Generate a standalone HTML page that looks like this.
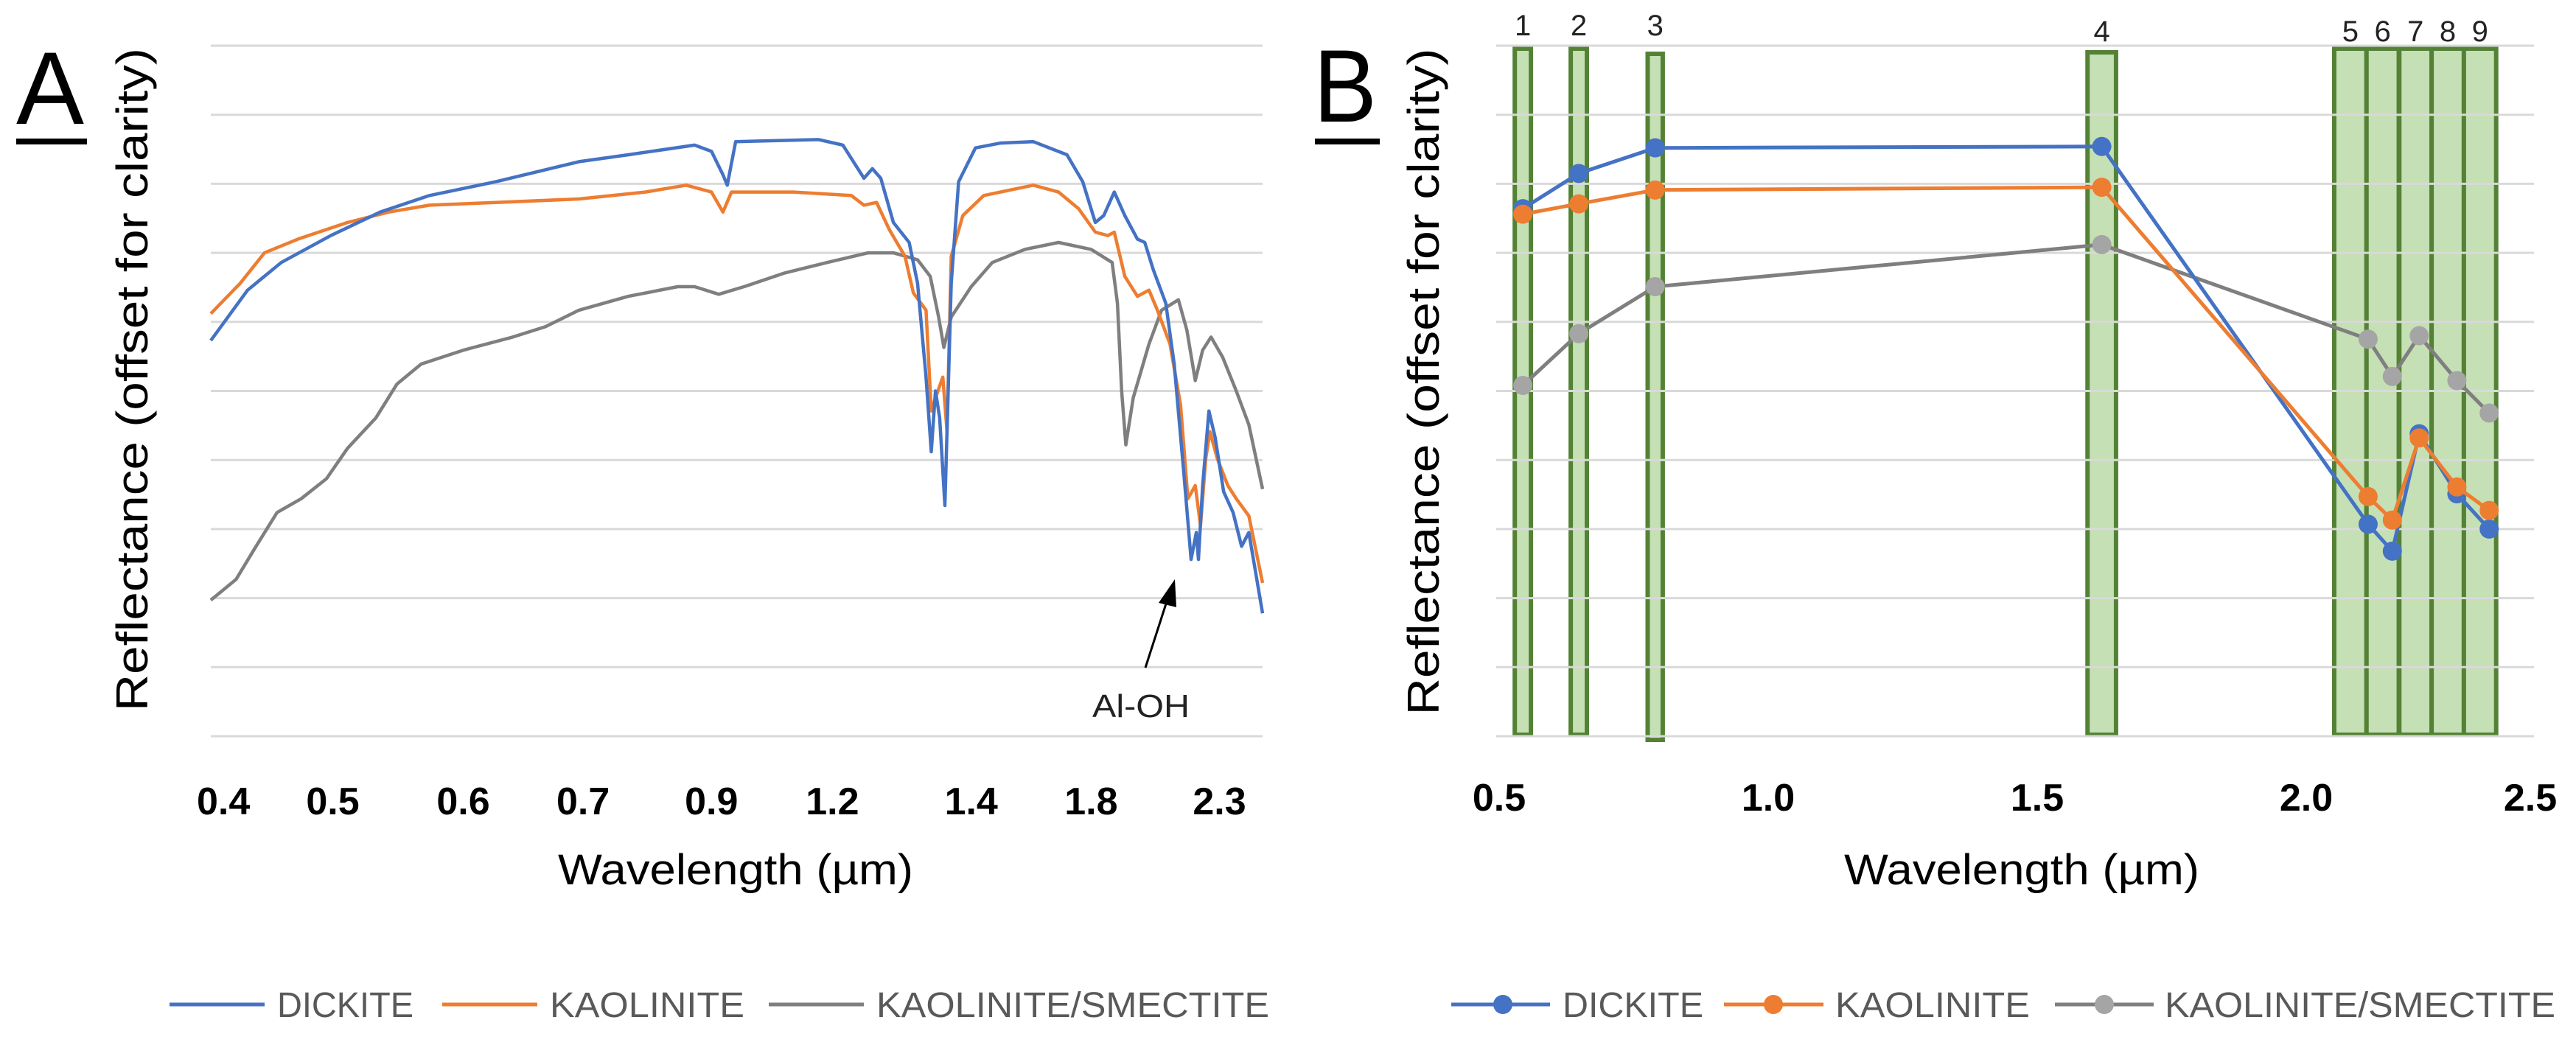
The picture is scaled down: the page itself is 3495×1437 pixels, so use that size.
<!DOCTYPE html>
<html><head><meta charset="utf-8"><style>
html,body{margin:0;padding:0;background:#fff;}
svg{display:block;font-family:"Liberation Sans",sans-serif;}
</style></head><body>
<svg id="fig" width="3495" height="1437" viewBox="0 0 3495 1437" xmlns="http://www.w3.org/2000/svg">
<g id="panelA"></g>
<g id="panelB"></g>
</svg>
<script>
// ---------- Panel A data (x: relative position 0-100 along axis, y: offset reflectance 0-10) ----------
const aTickLabels = ["0.4","0.5","0.6","0.7","0.9","1.2","1.4","1.8","2.3"];
const aTickPos = [1.2,11.6,24.0,35.4,47.6,59.1,72.3,83.7,95.9];
const dickX = [0,3.5,6.7,11.4,16.1,20.8,27.1,35.0,39.7,46.0,47.6,48.7,49.1,49.9,57.8,60.1,61.3,62.1,62.9,63.7,64.9,66.4,67.2,68.0,68.5,68.9,69.3,69.8,70.4,71.1,72.7,75.1,78.2,81.4,82.9,84.1,84.9,85.9,86.9,88.1,88.8,89.6,90.8,91.6,92.5,93.2,93.7,93.9,94.3,94.9,95.5,96.3,97.2,98.0,98.7,100];
const dickY = [5.73,6.46,6.86,7.25,7.59,7.83,8.03,8.32,8.42,8.56,8.47,8.13,7.98,8.61,8.64,8.56,8.27,8.08,8.22,8.08,7.44,7.15,6.56,5.20,4.12,5.00,4.61,3.34,6.56,8.03,8.52,8.59,8.61,8.42,8.03,7.44,7.54,7.88,7.54,7.20,7.15,6.76,6.27,5.39,3.83,2.56,2.95,2.56,3.63,4.71,4.32,3.54,3.24,2.75,2.95,1.78];
const kaolX = [0,2.8,5.1,8.3,13.0,16.9,20.8,27.1,35.0,41.3,45.2,47.6,48.7,49.5,55.4,60.9,62.1,63.3,64.5,66.0,66.8,68.0,68.5,68.9,69.6,70.0,70.4,71.5,73.5,78.2,80.6,82.5,84.1,85.3,85.9,86.9,88.1,89.2,90.0,91.2,92.2,92.9,93.6,94.1,94.6,95.0,95.7,96.7,97.5,98.7,100];
const kaolY = [6.12,6.56,7.00,7.20,7.44,7.59,7.69,7.73,7.78,7.88,7.98,7.88,7.59,7.88,7.88,7.83,7.69,7.73,7.34,6.95,6.42,6.17,4.71,4.90,5.20,4.41,6.95,7.54,7.83,7.98,7.88,7.64,7.30,7.25,7.30,6.66,6.37,6.46,6.17,5.68,4.80,3.44,3.63,3.05,4.02,4.41,4.02,3.63,3.44,3.19,2.22];
const ksX = [0,2.4,4.3,6.3,8.6,11.0,13.0,15.7,17.7,20.0,24.0,28.7,31.8,35.0,39.7,44.4,46.0,48.3,50.7,54.6,58.6,62.5,64.9,67.2,68.4,69.2,69.7,70.4,72.3,74.3,77.4,80.6,83.7,85.7,86.2,86.6,87.0,87.7,89.2,90.4,92.0,92.8,93.6,94.3,95.1,96.2,97.5,98.7,100];
const ksY = [1.97,2.27,2.75,3.24,3.44,3.73,4.17,4.61,5.10,5.39,5.59,5.78,5.93,6.17,6.37,6.51,6.51,6.40,6.51,6.71,6.86,7.00,7.00,6.90,6.66,6.07,5.63,6.07,6.51,6.86,7.05,7.15,7.05,6.86,6.27,5.00,4.22,4.90,5.68,6.17,6.32,5.88,5.15,5.59,5.78,5.49,5.00,4.51,3.58];

// ---------- Panel B data (wavelength µm, offset reflectance 0-10) ----------
const bBandLabels = ["1","2","3","4","5","6","7","8","9"];
const bBandCenters = [0.544,0.648,0.790,1.620,2.082,2.142,2.203,2.263,2.323];
const bBandWidths = [0.030,0.030,0.028,0.053,0.060,0.060,0.060,0.060,0.060];
const bPointX = [0.544,0.648,0.790,1.620,2.115,2.160,2.210,2.280,2.340];
const bDickite = [7.64,8.15,8.52,8.54,3.07,2.68,4.38,3.51,3.00];
const bKaolinite = [7.56,7.71,7.91,7.95,3.47,3.13,4.32,3.61,3.27];
const bKaolSmec = [5.08,5.83,6.51,7.12,5.75,5.21,5.80,5.15,4.68];
const bTickLabels = ["0.5","1.0","1.5","2.0","2.5"];
const bTickVals = [0.5,1.0,1.5,2.0,2.5];

const NS="http://www.w3.org/2000/svg";
const BLUE="#4472c4", ORANGE="#ed7d31", GRAY="#7f7f7f", MGRAY="#a5a5a5";
function mk(parent,tag,attrs,text){const e=document.createElementNS(NS,tag);for(const k in attrs)e.setAttribute(k,attrs[k]);if(text!==undefined)e.textContent=text;parent.appendChild(e);return e;}

const yTop=62, yBot=999;
function yS(v){return yBot-(v/10)*(yBot-yTop);}

// ---------- Panel A ----------
const A=document.getElementById('panelA');
const aL=286, aR=1713;
function xA(t){return aL+(t/100)*(aR-aL);}
for(let i=0;i<=10;i++){
  const g=mk(A,'line',{x1:aL,x2:aR,y1:yS(i),y2:yS(i),stroke:'#d9d9d9','stroke-width':3});
  
  
}
function seriesA(xs,ys,color,name){
  const d=xs.map((x,i)=>(i?'L':'M')+xA(x).toFixed(1)+' '+yS(ys[i]).toFixed(1)).join(' ');
  const p=mk(A,'path',{d:d,fill:'none',stroke:color,'stroke-width':4.5,'stroke-linejoin':'round'});
  
  
}
seriesA(ksX,ksY,GRAY,'kaolinite-smectite-line-a');
seriesA(kaolX,kaolY,ORANGE,'kaolinite-line-a');
seriesA(dickX,dickY,BLUE,'dickite-line-a');
aTickLabels.forEach((l,i)=>{
  const t=mk(A,'text',{x:xA(aTickPos[i]),y:1105,'text-anchor':'middle','font-size':52,'font-weight':'bold',fill:'#000'},l);
  
  
});
</script>
<script>
(function(){
const A=document.getElementById('panelA');
A.insertAdjacentHTML('beforeend',`
<text x="22" y="168" font-size="140" fill="#000" textLength="92" lengthAdjust="spacingAndGlyphs">A</text>
<rect x="22" y="188" width="96" height="8" fill="#000"/>
<text transform="translate(200,515) rotate(-90)" text-anchor="middle" font-size="60" fill="#000" textLength="900" lengthAdjust="spacingAndGlyphs">Reflectance (offset for clarity)</text>
<text x="998" y="1200" text-anchor="middle" font-size="58" fill="#000" textLength="482" lengthAdjust="spacingAndGlyphs">Wavelength (µm)</text>
<text x="1548" y="973" text-anchor="middle" font-size="44" fill="#222" textLength="132" lengthAdjust="spacingAndGlyphs">Al-OH</text>
<line x1="1554" y1="906" x2="1585" y2="810" stroke="#000" stroke-width="3"/>
<polygon points="1594,786 1572,818 1596,824" fill="#000"/>
<g>
<line x1="230" x2="359" y1="1363" y2="1363" stroke="#4472c4" stroke-width="5"/>
<text x="376" y="1380" font-size="48" fill="#595959" textLength="185" lengthAdjust="spacingAndGlyphs">DICKITE</text>
<line x1="600" x2="729" y1="1363" y2="1363" stroke="#ed7d31" stroke-width="5"/>
<text x="746" y="1380" font-size="48" fill="#595959" textLength="264" lengthAdjust="spacingAndGlyphs">KAOLINITE</text>
<line x1="1043" x2="1172" y1="1363" y2="1363" stroke="#7f7f7f" stroke-width="5"/>
<text x="1189" y="1380" font-size="48" fill="#595959" textLength="533" lengthAdjust="spacingAndGlyphs">KAOLINITE/SMECTITE</text>
</g>`);
})();
</script>
<script>
(function(){
const B=document.getElementById('panelB');
const bL=2030, bR=3438;
function xB(w){return 2034+(w-0.5)*730;}
bBandCenters.forEach((c,i)=>{
  const w=bBandWidths[i]*730;
  const top = i===2?73:(i===3?71:66);
  const bot = i===2?1004:997;
  const r=mk(B,'rect',{x:xB(c)-w/2,y:top,width:w,height:bot-top,fill:'#c5e0b4',stroke:'#548235','stroke-width':6});
  
  
  const t=mk(B,'text',{x:xB(c),y:(i<3?48:56),'text-anchor':'middle','font-size':40,fill:'#222'},bBandLabels[i]);
  
  
});
for(let i=0;i<=10;i++){
  const g=mk(B,'line',{x1:bL,x2:bR,y1:yS(i),y2:yS(i),stroke:'#d9d9d9','stroke-width':3});
  
  
}
function seriesB(ys,color,mcolor,name){
  const d=bPointX.map((x,i)=>(i?'L':'M')+xB(x).toFixed(1)+' '+yS(ys[i]).toFixed(1)).join(' ');
  const p=mk(B,'path',{d:d,fill:'none',stroke:color,'stroke-width':5,'stroke-linejoin':'round'});
  
  
  ys.forEach((v,i)=>{
    const c=mk(B,'circle',{cx:xB(bPointX[i]),cy:yS(v),r:13,fill:mcolor});
    
    
  });
}
seriesB(bKaolSmec,GRAY,MGRAY,'kaolinite-smectite');
seriesB(bDickite,BLUE,BLUE,'dickite');
seriesB(bKaolinite,ORANGE,ORANGE,'kaolinite');
bTickLabels.forEach((l,i)=>{
  const x=Math.min(xB(bTickVals[i]),3433);
  const t=mk(B,'text',{x:x,y:1100,'text-anchor':'middle','font-size':52,'font-weight':'bold',fill:'#000'},l);
  
  
});
B.insertAdjacentHTML('beforeend',`
<text x="1782" y="165" font-size="140" fill="#000" textLength="86" lengthAdjust="spacingAndGlyphs">B</text>
<rect x="1784" y="188" width="88" height="8" fill="#000"/>
<text transform="translate(1952,518) rotate(-90)" text-anchor="middle" font-size="60" fill="#000" textLength="905" lengthAdjust="spacingAndGlyphs">Reflectance (offset for clarity)</text>
<text x="2743" y="1200" text-anchor="middle" font-size="58" fill="#000" textLength="482" lengthAdjust="spacingAndGlyphs">Wavelength (µm)</text>
<g>
<line x1="1969" x2="2103" y1="1363" y2="1363" stroke="#4472c4" stroke-width="5"/>
<circle cx="2039" cy="1363" r="13" fill="#4472c4"/>
<text x="2120" y="1380" font-size="48" fill="#595959" textLength="191" lengthAdjust="spacingAndGlyphs">DICKITE</text>
<line x1="2339" x2="2474" y1="1363" y2="1363" stroke="#ed7d31" stroke-width="5"/>
<circle cx="2406" cy="1363" r="13" fill="#ed7d31"/>
<text x="2490" y="1380" font-size="48" fill="#595959" textLength="264" lengthAdjust="spacingAndGlyphs">KAOLINITE</text>
<line x1="2788" x2="2922" y1="1363" y2="1363" stroke="#7f7f7f" stroke-width="5"/>
<circle cx="2855" cy="1363" r="13" fill="#a5a5a5"/>
<text x="2937" y="1380" font-size="48" fill="#595959" textLength="530" lengthAdjust="spacingAndGlyphs">KAOLINITE/SMECTITE</text>
</g>`);
})();
</script>
</body></html>
